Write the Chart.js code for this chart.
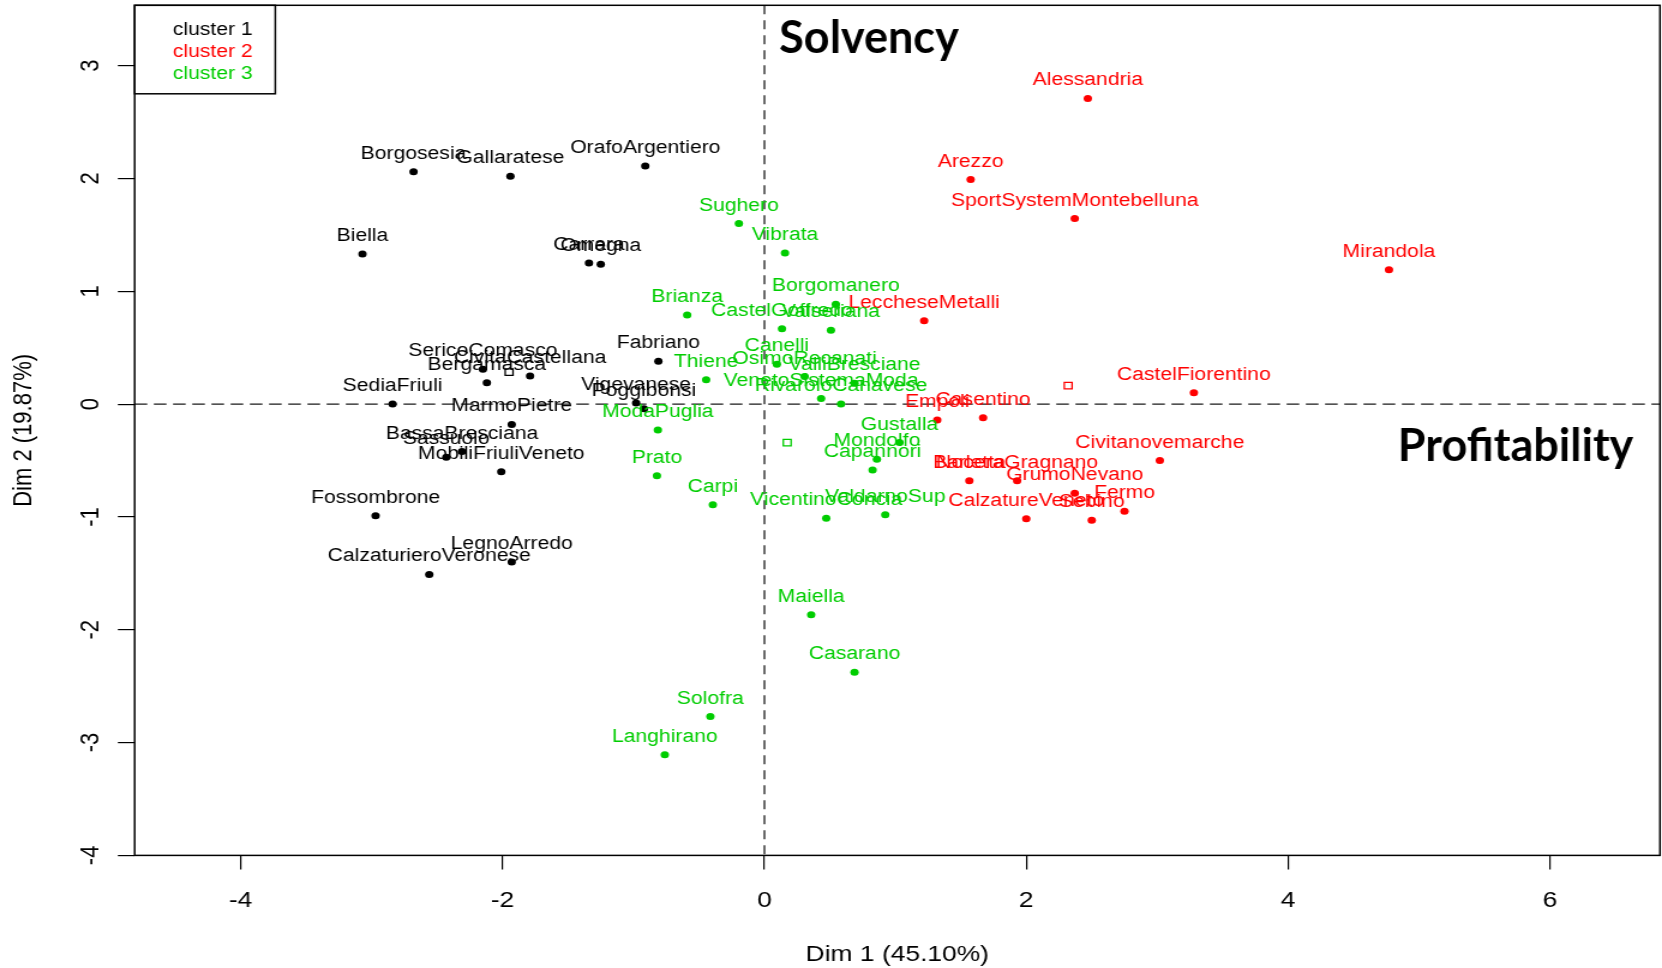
<!DOCTYPE html>
<html>
<head>
<meta charset="utf-8">
<title>Industrial districts - factor map</title>
<script src="https://cdn.jsdelivr.net/npm/chart.js@4.4.1/dist/chart.umd.min.js"></script>
<style>
  html, body { margin: 0; padding: 0; background: #fff; overflow: hidden; }
  #canvas { display: block; }
</style>
</head>
<body>
<!-- drawn at 1385 px wide and shown 1.2x wider, like the original wide plot -->
<canvas id="canvas" width="1385" height="968" style="width:1662px;height:968px"></canvas>
<script>
const S = 1662 / 1385;

const clusterLabels = ['cluster 1', 'cluster 2', 'cluster 3'];
const clusterColors = ['#000000', '#ff0000', '#00cd00'];

const cluster1Names = ['Borgosesia', 'Gallaratese', 'OrafoArgentiero', 'Biella', 'Carrara', 'Omegna',
  'Fabriano', 'SericoComasco', 'Bergamasca', 'CivitaCastellana', 'SediaFriuli', 'Vigevanese',
  'Poggibonsi', 'MarmoPietre', 'BassaBresciana', 'Sassuolo', 'MobiliFriuliVeneto', 'Fossombrone',
  'LegnoArredo', 'CalzaturieroVeronese'];
const cluster1Dim1 = [-2.68, -1.94, -0.91, -3.07, -1.34, -1.25, -0.81, -2.15, -2.12, -1.79, -2.84, -0.98,
  -0.92, -1.93, -2.31, -2.43, -2.01, -2.97, -1.93, -2.56];
const cluster1Dim2 = [2.06, 2.02, 2.11, 1.33, 1.25, 1.24, 0.38, 0.31, 0.19, 0.25, 0.00, 0.01,
  -0.04, -0.18, -0.42, -0.47, -0.60, -0.99, -1.40, -1.51];

const cluster2Names = ['Alessandria', 'Arezzo', 'SportSystemMontebelluna', 'Mirandola', 'LeccheseMetalli',
  'CastelFiorentino', 'Empoli', 'Casentino', 'Civitanovemarche', 'Barletta', 'NoceraGragnano',
  'GrumoNevano', 'Fermo', 'CalzatureVeneto', 'Sebino'];
const cluster2Dim1 = [2.47, 1.575, 2.37, 4.77, 1.22, 3.28, 1.32, 1.67, 3.02, 1.565, 1.93, 2.37, 2.75, 2.0, 2.50];
const cluster2Dim2 = [2.71, 1.99, 1.645, 1.19, 0.74, 0.10, -0.14, -0.12, -0.50, -0.68, -0.68, -0.79, -0.95, -1.015, -1.03];

const cluster3Names = ['Sughero', 'Vibrata', 'Brianza', 'Borgomanero', 'CastelGoffredo', 'Valseriana',
  'Canelli', 'OsimoRecanati', 'ValliBresciane', 'Thiene', 'VenetoSistemaModa', 'RivaroloCanavese',
  'ModaPuglia', 'Gustalla', 'Mondolfo', 'Capannori', 'Prato', 'Carpi', 'VicentinoConcia', 'ValdarnoSup',
  'Maiella', 'Casarano', 'Solofra', 'Langhirano'];
const cluster3Dim1 = [-0.195, 0.157, -0.59, 0.545, 0.134, 0.508, 0.095, 0.307, 0.688, -0.445, 0.433, 0.585,
  -0.814, 1.032, 0.859, 0.826, -0.821, -0.394, 0.472, 0.923, 0.357, 0.688, -0.413, -0.761];
const cluster3Dim2 = [1.60, 1.34, 0.79, 0.885, 0.667, 0.655, 0.354, 0.244, 0.185, 0.217, 0.049, 0.00,
  -0.229, -0.341, -0.489, -0.583, -0.634, -0.891, -1.012, -0.98, -1.867, -2.377, -2.769, -3.107];

// cluster centres
const centreDim1 = [-1.95, 2.32, 0.174];
const centreDim2 = [0.283, 0.164, -0.341];

const xTicks = [-4, -2, 0, 2, 4, 6];
const yTicks = [-4, -3, -2, -1, 0, 1, 2, 3];
const xTitle = 'Dim 1 (45.10%)';
const yTitle = 'Dim 2 (19.87%)';

// quadrant captions: [text, dim1, dim2, align]
const captions = [
  ['Solvency', 0.113, 3.113, 'left'],
  ['Profitability', 6.637, -0.504, 'right']
];

const toPoints = (xs, ys) => xs.map((v, i) => ({x: v, y: ys[i]}));

const clusterSet = (k, names, xs, ys) => ({
  label: clusterLabels[k],
  names: names,
  data: toPoints(xs, ys),
  backgroundColor: clusterColors[k],
  borderColor: clusterColors[k],
  pointRadius: 3.5,
  pointBorderWidth: 0
});

const AXIS_FONT = {family: '"Liberation Sans", Arial, sans-serif', size: 22};

// no extra room for the outer tick labels: the frame sits on the canvas edges
const noPadding = s => {
  s.paddingTop = 0;
  s.paddingBottom = 0;
  s.paddingLeft = 0;
  s.paddingRight = 0;
};

const decor = {
  id: 'decor',
  beforeDatasetsDraw(chart) {
    const {ctx, chartArea: a, scales: {x, y}} = chart;
    const x0 = x.getPixelForValue(0);
    const y0 = y.getPixelForValue(0);
    ctx.save();
    ctx.strokeStyle = '#1a1a1a';
    ctx.lineWidth = 1.3;
    ctx.setLineDash([9, 6]);
    ctx.beginPath();
    ctx.moveTo(x0, a.top);
    ctx.lineTo(x0, a.bottom);
    ctx.stroke();
    ctx.setLineDash([10.5, 5.5]);
    ctx.beginPath();
    ctx.moveTo(a.left, y0);
    ctx.lineTo(a.right, y0);
    ctx.stroke();
    ctx.restore();
  },
  afterDatasetsDraw(chart) {
    const {ctx, chartArea: a, scales: {x, y}} = chart;
    ctx.save();

    // names above the points
    ctx.font = '17.6px "Liberation Sans", Arial, sans-serif';
    ctx.textAlign = 'center';
    ctx.textBaseline = 'alphabetic';
    chart.data.datasets.forEach((ds, i) => {
      if (!ds.names) return;
      ctx.fillStyle = ds.backgroundColor;
      chart.getDatasetMeta(i).data.forEach((pt, j) => {
        ctx.fillText(ds.names[j], pt.x, pt.y - 13);
      });
    });

    // frame
    ctx.strokeStyle = '#000';
    ctx.lineWidth = 1.5;
    ctx.strokeRect(a.left, a.top, a.right - a.left, a.bottom - a.top);

    // legend box
    ctx.strokeRect(a.left, a.top, 117.2, 88.5);
    clusterLabels.forEach((t, k) => {
      ctx.fillStyle = clusterColors[k];
      ctx.fillText(t, a.left + 65, a.top + 29.4 + k * 21.9);
    });

    // quadrant captions, kept at their natural width
    ctx.font = 'bold 45px Lato, "Open Sans", sans-serif';
    ctx.fillStyle = '#000';
    captions.forEach(([text, cx, cy, align]) => {
      ctx.save();
      ctx.translate(x.getPixelForValue(cx), y.getPixelForValue(cy));
      ctx.scale(1 / S, 1);
      ctx.textAlign = align;
      ctx.fillText(text, 0, 0);
      ctx.restore();
    });
    ctx.restore();
  }
};

new Chart(document.getElementById('canvas').getContext('2d'), {
  type: 'scatter',
  data: {
    datasets: [
      clusterSet(0, cluster1Names, cluster1Dim1, cluster1Dim2),
      clusterSet(1, cluster2Names, cluster2Dim1, cluster2Dim2),
      clusterSet(2, cluster3Names, cluster3Dim1, cluster3Dim2),
      {
        label: 'centres',
        data: toPoints(centreDim1, centreDim2),
        pointStyle: 'rect',
        pointRadius: 4.6,
        pointBorderWidth: 1.3,
        borderColor: clusterColors,
        backgroundColor: 'rgba(0,0,0,0)'
      }
    ]
  },
  options: {
    responsive: false,
    animation: false,
    devicePixelRatio: 1,
    layout: {autoPadding: false, padding: {top: 5.3, right: 1.7, left: 0, bottom: 0}},
    plugins: {
      legend: {display: false},
      tooltip: {enabled: false}
    },
    scales: {
      x: {
        type: 'linear',
        min: -4.81,
        max: 6.84,
        afterBuildTicks: s => { s.ticks = xTicks.map(v => ({value: v})); },
        afterFit: s => { s.height = 112.6; noPadding(s); },
        border: {display: false},
        grid: {drawOnChartArea: false, drawTicks: true, tickLength: 14, color: '#000', lineWidth: 1.2},
        ticks: {color: '#000', font: AXIS_FONT, padding: 18, autoSkip: false, minRotation: 0, maxRotation: 0,
          callback: v => String(v)},
        title: {display: true, text: xTitle, color: '#000', font: AXIS_FONT, padding: {top: 0, bottom: 0}}
      },
      y: {
        type: 'linear',
        min: -4,
        max: 3.535,
        afterBuildTicks: s => { s.ticks = yTicks.map(v => ({value: v})); },
        afterFit: s => { s.width = 112.2; noPadding(s); },
        border: {display: false},
        grid: {drawOnChartArea: false, drawTicks: true, tickLength: 14, color: '#000', lineWidth: 1.2},
        ticks: {color: '#000', font: AXIS_FONT, padding: 12, autoSkip: false, minRotation: 90, maxRotation: 90,
          crossAlign: 'center', callback: v => String(v)},
        title: {display: true, text: yTitle, color: '#000', font: AXIS_FONT, padding: {top: 7, bottom: 0}}
      }
    }
  },
  plugins: [decor]
});
</script>
</body>
</html>
